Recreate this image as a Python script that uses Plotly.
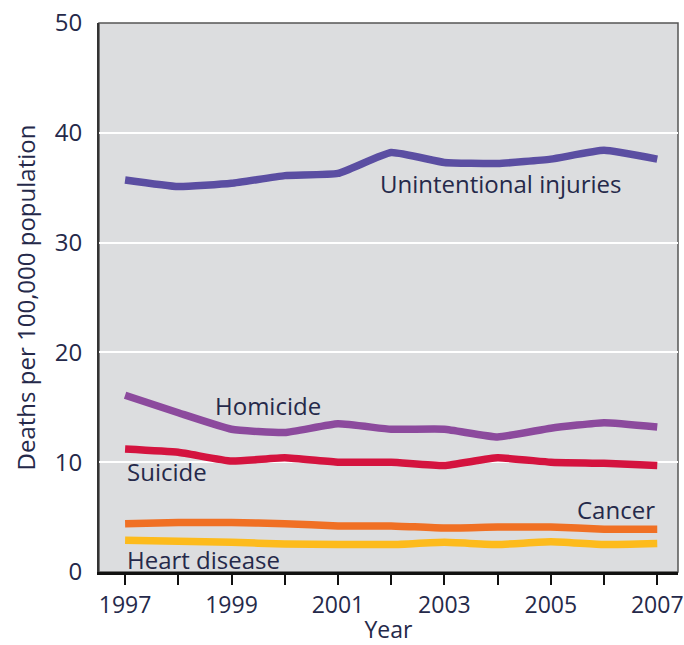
import plotly.graph_objects as go

years = list(range(1997, 2008))
unintentional = [35.7, 35.1, 35.4, 36.1, 36.3, 38.2, 37.3, 37.2, 37.6, 38.4, 37.6]
homicide = [16.1, 14.5, 13.0, 12.7, 13.5, 13.0, 13.0, 12.3, 13.1, 13.6, 13.2]
suicide = [11.2, 10.9, 10.1, 10.4, 10.0, 10.0, 9.7, 10.4, 10.0, 9.9, 9.7]
cancer = [4.4, 4.5, 4.5, 4.4, 4.2, 4.2, 4.0, 4.1, 4.1, 3.9, 3.9]
heart = [2.9, 2.8, 2.7, 2.55, 2.5, 2.5, 2.7, 2.5, 2.75, 2.5, 2.6]

series = [
    ("Unintentional injuries", unintentional, "#5b4ea2"),
    ("Homicide", homicide, "#8c4a9d"),
    ("Suicide", suicide, "#d4133f"),
    ("Cancer", cancer, "#f07024"),
    ("Heart disease", heart, "#fdbb1c"),
]

# label placements (x, y, anchor)
labels = {
    "Unintentional injuries": (2001.75, 35.4, "left"),
    "Homicide": (1998.65, 15.2, "left"),
    "Suicide": (1997.0, 9.15, "left"),
    "Cancer": (2007.0, 5.65, "right"),
    "Heart disease": (1997.0, 1.1, "left"),
}

x_tickvals = years
x_ticktext = [str(y) if (y - 1997) % 2 == 0 else "" for y in years]
y_tickvals = [0, 10, 20, 30, 40, 50]

FONT = "Open Sans"
TXT = "#25294a"

fig = go.Figure()
for name, vals, color in series:
    fig.add_trace(go.Scatter(
        x=years, y=vals, mode="lines", name=name,
        line=dict(color=color, width=7.5, shape="spline", smoothing=0.4),
        showlegend=False, hoverinfo="skip",
    ))

for name, (lx, ly, anchor) in labels.items():
    fig.add_annotation(x=lx, y=ly, text=name, showarrow=False,
                       xanchor=anchor, yanchor="middle",
                       font=dict(family=FONT, size=24, color=TXT))

fig.add_shape(type="rect", xref="paper", yref="paper", x0=0, y0=0, x1=1, y1=1,
              line=dict(color="#555555", width=1.5), layer="below")

fig.update_layout(
    width=684, height=645,
    margin=dict(l=99, r=6, t=23, b=73),
    paper_bgcolor="white",
    plot_bgcolor="#dcdddf",
    font=dict(family=FONT, size=23, color=TXT),
    xaxis=dict(
        range=[1996.51, 2007.39],
        tickvals=x_tickvals, ticktext=x_ticktext,
        ticks="outside", ticklen=10, tickwidth=2, tickcolor="#111111",
        showline=True, linecolor="#111111", linewidth=3,
        showgrid=False, zeroline=False, automargin=False,
        tickfont=dict(size=23, color=TXT),
        title=dict(text="Year", font=dict(size=23, color=TXT), standoff=7),
    ),
    yaxis=dict(
        range=[0, 50],
        tickvals=y_tickvals,
        ticks="", ticklabelstandoff=10,
        showline=True, linecolor="#333333", linewidth=2,
        showgrid=True, gridcolor="white", gridwidth=2,
        zeroline=False, automargin=False,
        tickfont=dict(size=24, color=TXT),
        title=dict(text="Deaths per 100,000 population", font=dict(size=24, color=TXT), standoff=12),
    ),
)

fig.write_html(
    "out.html",
    config={"displayModeBar": False},
    post_script="document.body.style.margin='0';document.body.style.overflow='hidden';",
)
